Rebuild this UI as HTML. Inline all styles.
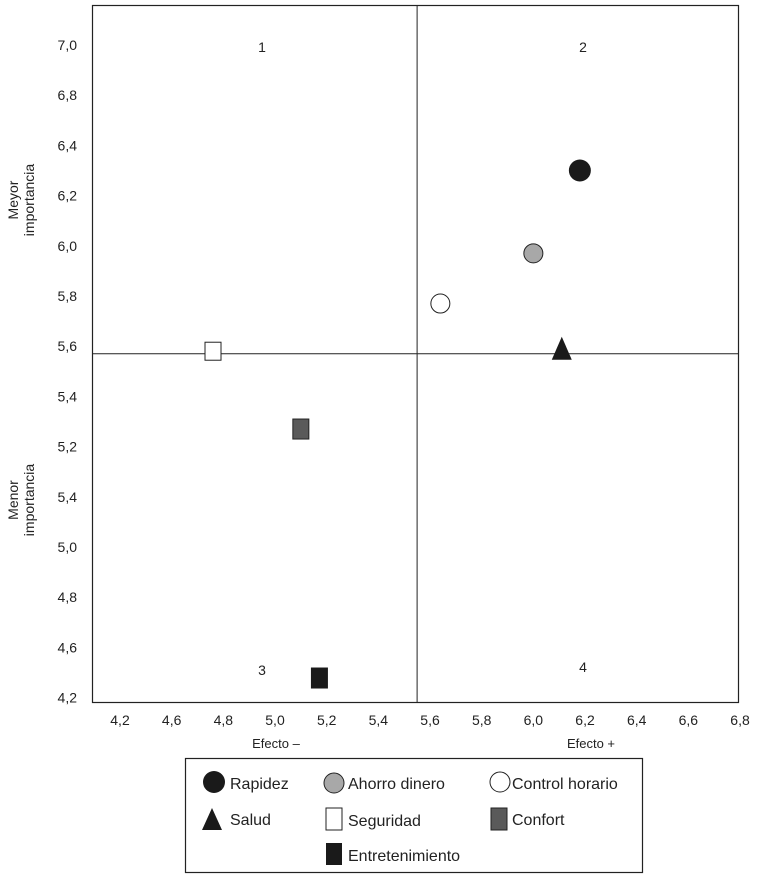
<!DOCTYPE html>
<html><head><meta charset="utf-8"><style>
html,body{margin:0;padding:0;background:#fff;}
svg{display:block;font-family:"Liberation Sans",sans-serif;}
</style></head><body>
<svg id="chart" width="761" height="879" viewBox="0 0 761 879">
<rect x="92.5" y="5.5" width="646" height="697" fill="none" stroke="#222" stroke-width="1.2"/>
<g id="marks"></g>
<g fill="#222" font-size="14" text-anchor="middle">
<text x="262" y="52">1</text>
<text x="583" y="52">2</text>
<text x="262" y="675">3</text>
<text x="583" y="672">4</text>
<text x="276" y="748" font-size="13">Efecto –</text>
<text x="591" y="748" font-size="13">Efecto +</text>
<text transform="translate(18,200) rotate(-90)" font-size="14"><tspan x="0" dy="0">Meyor</tspan><tspan x="0" dy="16">importancia</tspan></text>
<text transform="translate(18,500) rotate(-90)" font-size="14"><tspan x="0" dy="0">Menor</tspan><tspan x="0" dy="16">importancia</tspan></text>
</g>
<g>
<rect x="185.5" y="758.5" width="457" height="114" fill="none" stroke="#222" stroke-width="1.2"/>
<g font-size="16" fill="#222">
<circle cx="214" cy="782" r="11" fill="#1a1a1a"/>
<text x="230" y="789">Rapidez</text>
<circle cx="334" cy="783" r="10" fill="#a8a8a8" stroke="#222"/>
<text x="348" y="789">Ahorro dinero</text>
<circle cx="500" cy="782" r="10" fill="#fff" stroke="#222"/>
<text x="512" y="789">Control horario</text>
<polygon points="212,808 222,830 202,830" fill="#1a1a1a"/>
<text x="230" y="825">Salud</text>
<rect x="326" y="808" width="16" height="22" fill="#fff" stroke="#222"/>
<text x="348" y="826">Seguridad</text>
<rect x="491" y="808" width="16" height="22" fill="#5a5a5a" stroke="#222"/>
<text x="512" y="825">Confort</text>
<rect x="326" y="843" width="16" height="22" fill="#1a1a1a"/>
<text x="348" y="861">Entretenimiento</text>
</g></g>
</svg>
<script>
const xTickLabels=["4,2","4,6","4,8","5,0","5,2","5,4","5,6","5,8","6,0","6,2","6,4","6,6","6,8"];
const yTickLabels=["7,0","6,8","6,4","6,2","6,0","5,8","5,6","5,4","5,2","5,4","5,0","4,8","4,6","4,2"];
const seriesNames=["Rapidez","Ahorro dinero","Control horario","Salud","Seguridad","Confort","Entretenimiento"];
const xValues=[6.18,6.00,5.64,6.11,4.76,5.10,5.17];
const yValues=[6.30,5.97,5.77,5.59,5.58,5.27,4.28];
const dividerX=5.55;
const dividerY=5.57;
const ns="http://www.w3.org/2000/svg";
const svg=document.getElementById('chart');
const marks=document.getElementById('marks');
const X0=120,XS=51.67;
function xScale(v){return X0+((v-4.4)/0.2)*XS;}
function yScale(v){return 45+((6.8-v)/0.2)*50.2;}
function xSlot(i){return X0+i*XS;}
function ySlot(i){return 45+i*50.2;}
function mk(t,a){const e=document.createElementNS(ns,t);for(const k in a)e.setAttribute(k,a[k]);return e;}
let l=mk('line',{x1:xScale(dividerX),x2:xScale(dividerX),y1:5,y2:702,stroke:'#222','stroke-width':1});


marks.appendChild(l);
l=mk('line',{x1:92,x2:738,y1:yScale(dividerY),y2:yScale(dividerY),stroke:'#222','stroke-width':1});


marks.appendChild(l);
xTickLabels.forEach((t,i)=>{const e=mk('text',{x:xSlot(i),y:725,'text-anchor':'middle','font-size':14,fill:'#222'});e.textContent=t;


svg.appendChild(e);});
yTickLabels.forEach((t,i)=>{const e=mk('text',{x:77,y:ySlot(i)+5,'text-anchor':'end','font-size':14,fill:'#222'});e.textContent=t;


svg.appendChild(e);});
const names=['point-rapidez','point-ahorro-dinero','point-control-horario','point-salud','point-seguridad','point-confort','point-entretenimiento'];
seriesNames.forEach((n,i)=>{const x=xScale(xValues[i]),y=yScale(yValues[i]);let e;
if(i===0)e=mk('circle',{cx:x,cy:y,r:11,fill:'#1a1a1a'});
else if(i===1)e=mk('circle',{cx:x,cy:y,r:9.5,fill:'#a8a8a8',stroke:'#222'});
else if(i===2)e=mk('circle',{cx:x,cy:y,r:9.5,fill:'#fff',stroke:'#222'});
else if(i===3)e=mk('polygon',{points:`${x},${y-12} ${x+10},${y+11} ${x-10},${y+11}`,fill:'#1a1a1a'});
else if(i===4)e=mk('rect',{x:x-8,y:y-9,width:16,height:18,fill:'#fff',stroke:'#222'});
else if(i===5)e=mk('rect',{x:x-8,y:y-10,width:16,height:20,fill:'#5a5a5a',stroke:'#222'});
else e=mk('rect',{x:x-8,y:y-10,width:17,height:21,fill:'#1a1a1a'});


marks.appendChild(e);});
</script>
</body></html>
